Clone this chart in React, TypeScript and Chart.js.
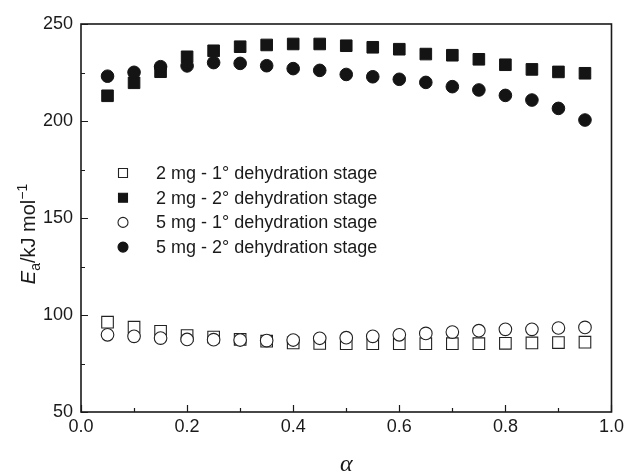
import React, { useEffect, useRef } from "react";
import { Chart, registerables } from "chart.js";

Chart.register(...registerables);

const alpha = [0.05, 0.1, 0.15, 0.2, 0.25, 0.3, 0.35, 0.4, 0.45, 0.5, 0.55, 0.6, 0.65, 0.7, 0.75, 0.8, 0.85, 0.9, 0.95];
const mg2Stage1 = [96.3, 93.7, 91.6, 89.4, 88.6, 87.4, 86.5, 85.6, 85.3, 85.2, 85.2, 85.2, 85.2, 85.2, 85.2, 85.4, 85.6, 85.8, 86.0];
const mg2Stage2 = [213.0, 219.7, 225.4, 233.1, 236.2, 238.3, 239.2, 239.7, 239.7, 238.8, 238.0, 237.0, 234.5, 233.9, 231.8, 229.0, 226.6, 225.3, 224.6];
const mg5Stage1 = [89.8, 89.0, 88.1, 87.4, 87.3, 87.1, 86.8, 87.1, 88.0, 88.3, 89.0, 89.8, 90.5, 91.2, 91.9, 92.6, 92.6, 93.3, 93.6];
const mg5Stage2 = [223.1, 225.1, 228.0, 228.4, 230.1, 229.7, 228.5, 227.0, 226.1, 224.0, 222.8, 221.5, 219.9, 217.7, 216.0, 213.2, 210.8, 206.5, 200.5];

const seriesLabels = [
  "2 mg - 1° dehydration stage",
  "2 mg - 2° dehydration stage",
  "5 mg - 1° dehydration stage",
  "5 mg - 2° dehydration stage",
];
const xTicks = [0, 0.2, 0.4, 0.6, 0.8, 1.0];
const xMinorTicks = [0.1, 0.3, 0.5, 0.7, 0.9];
const yTicks = [50, 100, 150, 200, 250];
const yMinorTicks = [75, 125, 175, 225];

const INK = "#1a1a1a";
const SANS = "'Liberation Sans', Arial, Helvetica, sans-serif";

const framePlugin = {
  id: "framePlugin",
  afterDraw(chart: any) {
    const { ctx, chartArea } = chart;
    const { left, right, top, bottom } = chartArea;
    const xs = chart.scales.x;
    const ys = chart.scales.y;
    ctx.save();
    ctx.strokeStyle = INK;
    ctx.lineWidth = 1.2;
    // inward ticks
    ctx.beginPath();
    xTicks.forEach((v) => {
      const px = Math.round(xs.getPixelForValue(v)) + 0.5;
      ctx.moveTo(px, bottom);
      ctx.lineTo(px, bottom - 7);
    });
    xMinorTicks.forEach((v) => {
      const px = Math.round(xs.getPixelForValue(v)) + 0.5;
      ctx.moveTo(px, bottom);
      ctx.lineTo(px, bottom - 4);
    });
    yTicks.forEach((v) => {
      const py = Math.round(ys.getPixelForValue(v)) + 0.5;
      ctx.moveTo(left, py);
      ctx.lineTo(left + 7, py);
    });
    yMinorTicks.forEach((v) => {
      const py = Math.round(ys.getPixelForValue(v)) + 0.5;
      ctx.moveTo(left, py);
      ctx.lineTo(left + 4, py);
    });
    ctx.stroke();
    // frame
    ctx.lineWidth = 1.6;
    ctx.strokeRect(left, top, right - left, bottom - top);

    // legend
    const lx = 123;
    const ly0 = 173;
    const dy = 24.7;
    ctx.font = `18px ${SANS}`;
    ctx.textBaseline = "middle";
    ctx.textAlign = "left";
    chart.data.datasets.forEach((ds: any, i: number) => {
      const y = ly0 + i * dy;
      ctx.lineWidth = 1.1;
      ctx.strokeStyle = ds.borderColor;
      ctx.fillStyle = ds.backgroundColor;
      ctx.beginPath();
      if (ds.pointStyle === "rect") {
        ctx.rect(lx - 4.5, y - 4.5, 9, 9);
      } else {
        ctx.arc(lx, y, 5, 0, Math.PI * 2);
      }
      ctx.fill();
      ctx.stroke();
      ctx.fillStyle = INK;
      ctx.fillText(ds.label, 156, y + 1);
    });

    // x title
    ctx.font = `italic 24px 'Liberation Serif', 'DejaVu Serif', serif`;
    ctx.textAlign = "center";
    ctx.textBaseline = "alphabetic";
    ctx.fillStyle = INK;
    ctx.fillText("α", (left + right) / 2, 471);

    // y title: E_a/kJ mol^-1 rotated
    const parts = [
      { t: "E", font: `italic 20px ${SANS}`, dy: 0 },
      { t: "a", font: `14px ${SANS}`, dy: 5 },
      { t: "/kJ mol", font: `20px ${SANS}`, dy: 0 },
      { t: "−1", font: `14px ${SANS}`, dy: -8 },
    ];
    let total = 0;
    const widths = parts.map((p) => {
      ctx.font = p.font;
      const w = ctx.measureText(p.t).width;
      total += w;
      return w;
    });
    ctx.save();
    ctx.translate(35, 234);
    ctx.rotate(-Math.PI / 2);
    ctx.textAlign = "left";
    let cx = -total / 2;
    parts.forEach((p, i) => {
      ctx.font = p.font;
      ctx.fillText(p.t, cx, p.dy);
      cx += widths[i];
    });
    ctx.restore();
    ctx.restore();
  },
};

export default function App() {
  const ref = useRef<HTMLCanvasElement | null>(null);
  useEffect(() => {
    if (!ref.current) return;
    const mk = (arr: number[]) => alpha.map((a, i) => ({ x: a, y: arr[i] }));
    const chart = new Chart(ref.current, {
      type: "scatter",
      data: {
        datasets: [
          {
            label: seriesLabels[0],
            data: mk(mg2Stage1),
            pointStyle: "rect",
            pointRadius: 8.2,
            backgroundColor: "#ffffff",
            borderColor: "#222222",
            borderWidth: 1.1,
            order: 3,
          },
          {
            label: seriesLabels[1],
            data: mk(mg2Stage2),
            pointStyle: "rect",
            pointRadius: 8.2,
            backgroundColor: "#141414",
            borderColor: "#141414",
            borderWidth: 1,
            order: 2,
          },
          {
            label: seriesLabels[2],
            data: mk(mg5Stage1),
            pointStyle: "circle",
            pointRadius: 6.3,
            backgroundColor: "#ffffff",
            borderColor: "#222222",
            borderWidth: 1.1,
            order: 1,
          },
          {
            label: seriesLabels[3],
            data: mk(mg5Stage2),
            pointStyle: "circle",
            pointRadius: 6.3,
            backgroundColor: "#141414",
            borderColor: "#141414",
            borderWidth: 1,
            order: 0,
          },
        ] as any,
      },
      options: {
        animation: false,
        responsive: true,
        maintainAspectRatio: false,
        layout: { padding: { top: 24, right: 16, left: 0, bottom: 0 } },
        plugins: { legend: { display: false }, tooltip: { enabled: false } },
        scales: {
          x: {
            type: "linear",
            min: 0,
            max: 1,
            grid: { display: false, drawTicks: false },
            border: { display: false },
            afterBuildTicks: (s: any) => {
              s.ticks = xTicks.map((v) => ({ value: v }));
            },
            afterFit: (s: any) => {
              s.height = 62;
            },
            ticks: {
              padding: 4,
              color: INK,
              font: { family: SANS, size: 18 },
              callback: (v: any) => Number(v).toFixed(1),
              maxRotation: 0,
            },
          },
          y: {
            type: "linear",
            min: 50,
            max: 250,
            grid: { display: false, drawTicks: false },
            border: { display: false },
            afterBuildTicks: (s: any) => {
              s.ticks = yTicks.map((v) => ({ value: v }));
            },
            afterFit: (s: any) => {
              s.width = 81;
            },
            ticks: {
              padding: 8,
              color: INK,
              font: { family: SANS, size: 18 },
            },
          },
        },
      },
      plugins: [framePlugin],
    });
    return () => chart.destroy();
  }, []);
  return (
    <div style={{ position: "absolute", left: 0, top: 0, width: 628, height: 474, background: "#fff" }}>
      <canvas ref={ref} />
    </div>
  );
}
